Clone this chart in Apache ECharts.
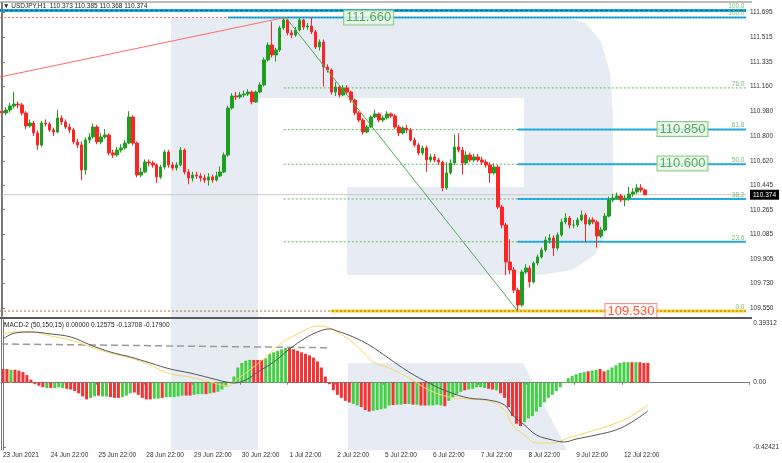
<!DOCTYPE html>
<html><head><meta charset="utf-8">
<script src="https://cdn.jsdelivr.net/npm/echarts@6/dist/echarts.min.js"></script>
<style>html,body{margin:0;padding:0;background:#fff}#c{width:782px;height:463px}</style>
</head><body><div id="c"></div>
<script>
// ---------------- DATA ----------------
const dayLabels = ['23 Jun 2021','24 Jun 22:00','25 Jun 22:00','28 Jun 22:00','29 Jun 22:00','30 Jun 22:00','1 Jul 22:00','2 Jul 22:00','5 Jul 22:00','6 Jul 22:00','7 Jul 22:00','8 Jul 22:00','9 Jul 22:00','12 Jul 22:00'];
const barsPerDay = 12; // 2-hour candles
const firstOpen = 110.980;
const closes = [110.967,110.989,111.018,111.032,111.025,110.967,110.873,110.894,110.822,110.735,
110.894,110.887,110.844,110.829,110.931,110.902,110.865,110.844,110.757,110.735,
110.553,110.771,110.793,110.865,110.757,110.793,110.807,110.677,110.662,110.698,
110.713,110.749,110.938,110.749,110.517,110.539,110.611,110.604,110.590,110.503,
110.575,110.684,110.590,110.568,110.590,110.698,110.539,110.495,110.517,110.510,
110.495,110.481,110.503,110.481,110.510,110.539,110.662,111.003,111.090,111.083,
111.098,111.105,111.119,111.047,111.119,111.170,111.352,111.460,111.388,111.424,
111.584,111.642,111.548,111.533,111.569,111.642,111.591,111.598,111.555,111.446,
111.482,111.301,111.279,111.119,111.156,111.098,111.148,111.119,111.061,110.967,
110.916,110.829,110.865,110.938,110.960,110.916,110.931,110.960,110.945,110.865,
110.822,110.858,110.844,110.771,110.735,110.677,110.713,110.626,110.648,110.626,
110.611,110.423,110.532,110.604,110.720,110.698,110.604,110.662,110.626,110.648,
110.626,110.611,110.590,110.532,110.575,110.285,110.154,109.886,109.828,109.682,
109.574,109.813,109.842,109.741,109.878,109.922,109.973,110.045,110.060,109.987,
110.082,110.176,110.205,110.154,110.154,110.191,110.227,110.161,110.191,110.176,
110.074,110.118,110.219,110.336,110.350,110.365,110.336,110.350,110.379,110.394,
110.423,110.408,110.374];
const highs = [111.00,111.01,111.04,111.12,111.05,111.04,110.98,110.92,110.91,110.84,
110.91,110.92,110.90,110.86,110.99,110.95,110.92,110.89,110.86,110.78,
110.76,110.79,110.82,110.89,110.88,110.82,110.85,110.82,110.70,110.72,
110.74,110.77,110.98,110.95,110.76,110.57,110.63,110.63,110.62,110.60,
110.59,110.70,110.70,110.61,110.61,110.72,110.71,110.56,110.54,110.54,
110.53,110.52,110.53,110.52,110.54,110.58,110.68,111.02,111.11,111.12,
111.12,111.13,111.14,111.13,111.13,111.19,111.37,111.48,111.63,111.44,
111.60,111.66,111.65,111.57,111.59,111.66,111.65,111.62,111.66,111.57,
111.50,111.50,111.32,111.29,111.19,111.17,111.17,111.17,111.13,111.07,
110.98,110.93,110.88,110.95,110.99,110.97,110.95,110.98,110.97,110.96,
110.88,110.87,110.88,110.86,110.79,110.75,110.73,110.73,110.67,110.67,
110.64,110.62,110.61,110.63,110.81,110.82,110.72,110.69,110.68,110.67,
110.67,110.65,110.63,110.61,110.60,110.59,110.30,110.17,110.05,109.85,
109.70,109.83,109.87,109.86,109.89,109.94,109.99,110.07,110.09,110.08,
110.10,110.20,110.24,110.22,110.19,110.21,110.26,110.24,110.21,110.21,
110.19,110.14,110.24,110.36,110.38,110.39,110.38,110.37,110.43,110.42,
110.45,110.45,110.42];
const lows = [110.94,110.95,110.97,111.00,111.00,110.95,110.85,110.86,110.80,110.70,
110.72,110.87,110.83,110.80,110.82,110.88,110.85,110.82,110.74,110.71,
110.48,110.52,110.75,110.78,110.74,110.74,110.78,110.66,110.64,110.65,
110.68,110.70,110.74,110.73,110.50,110.50,110.53,110.58,110.57,110.46,
110.49,110.56,110.57,110.55,110.55,110.58,110.52,110.45,110.47,110.49,
110.47,110.46,110.44,110.46,110.47,110.50,110.53,110.65,110.99,111.06,
111.07,111.08,111.09,111.03,111.04,111.11,111.16,111.34,111.37,111.34,
111.41,111.57,111.53,111.51,111.52,111.56,111.57,111.57,111.54,111.43,
111.42,111.16,111.26,111.10,111.09,111.08,111.09,111.10,111.04,110.95,
110.90,110.81,110.82,110.86,110.93,110.90,110.90,110.92,110.93,110.85,
110.80,110.81,110.82,110.76,110.72,110.66,110.66,110.54,110.61,110.61,
110.59,110.40,110.41,110.52,110.59,110.68,110.52,110.59,110.61,110.61,
110.61,110.59,110.57,110.46,110.52,110.27,110.13,109.79,109.80,109.66,
109.53,109.56,109.80,109.70,109.73,109.86,109.91,109.96,110.02,109.93,
109.97,110.07,110.16,110.13,110.13,110.14,110.18,110.03,110.15,110.16,
109.99,110.06,110.11,110.21,110.32,110.34,110.32,110.29,110.33,110.36,
110.38,110.39,110.37];
const headerQuote = ['110.373','110.385','110.368','110.374'];
const lastPrice = 110.374;
const priceTicks = [111.695,111.515,111.335,111.160,110.980,110.800,110.620,110.445,110.265,110.085,109.905,109.730,109.550];
const fibHigh = 111.660, fibLow = 109.530;
const fibLevels = [0,23.6,38.2,50,61.8,76];
const upperLevel = 111.711;
const boxPrices = [111.660,110.850,110.600,109.530];
const trendLine = [[-0.5,111.228],[71.25,111.660]];
const fibDiagonal = [[71.5,111.660],[130,109.530]];

const macdTitle = 'MACD-2 (50,150,15) 0.00000 0.12575 -0.13708 -0.17900';
const macdTicks = [0.39312, 0, -0.42421];
const histValues = [0.09,0.09,0.085,0.085,0.08,0.07,0.05,0.02,-0.01,-0.02,
-0.03,-0.035,-0.035,-0.035,-0.03,-0.035,-0.04,-0.045,-0.055,-0.07,
-0.09,-0.11,-0.1,-0.09,-0.085,-0.09,-0.09,-0.095,-0.1,-0.1,
-0.095,-0.085,-0.07,-0.065,-0.08,-0.1,-0.11,-0.11,-0.105,-0.105,
-0.1,-0.095,-0.095,-0.095,-0.09,-0.085,-0.085,-0.085,-0.08,-0.075,
-0.075,-0.075,-0.07,-0.065,-0.06,-0.045,-0.025,0.005,0.04,0.1,
0.13,0.145,0.15,0.15,0.15,0.15,0.16,0.19,0.2,0.21,
0.22,0.23,0.23,0.22,0.21,0.2,0.19,0.18,0.165,0.14,
0.1,0.04,-0.01,-0.05,-0.08,-0.1,-0.12,-0.13,-0.14,-0.15,
-0.16,-0.18,-0.19,-0.185,-0.18,-0.175,-0.17,-0.15,-0.147,-0.145,
-0.145,-0.14,-0.14,-0.145,-0.145,-0.15,-0.15,-0.15,-0.15,-0.145,
-0.15,-0.155,-0.12,-0.1,-0.075,-0.06,-0.05,-0.045,-0.04,-0.03,
-0.03,-0.035,-0.04,-0.045,-0.05,-0.07,-0.1,-0.16,-0.22,-0.27,
-0.285,-0.26,-0.235,-0.22,-0.19,-0.16,-0.13,-0.1,-0.08,-0.055,
-0.03,0.005,0.03,0.045,0.055,0.065,0.07,0.075,0.08,0.085,
0.09,0.075,0.085,0.1,0.115,0.13,0.135,0.135,0.135,0.135,
0.135,0.13,0.13];
const histColors = 'RRGRRRRRRR'+'RGRGGGRRRR'+'RRGGRGGRRR'+'GGGRRRRRGG'+'RGGGGGRRGG'+'GRGRGGGGGG'+'GGGRRRGGGG'+'GGRRRRRRRR'+'RRRRRRRRGG'+'RRRGGGGGRG'+'GRGRGRRGGG'+'GRGGGGRGGG'+'GGRRGRRRRR'+'RGGGGGGGGG'+'GGGGGGGRGG'+'RRGGGGGGRG'+'RRR';
const macdLine = [[0,0.288],[3,0.327],[7,0.334],[12,0.321],[17,0.301],[22,0.248],[27,0.202],[32,0.169],[37,0.130],[42,0.090],[47,0.064],[52,0.031],[56,0.005],[58,-0.002],[61,0.018],[64,0.070],[68,0.136],[72,0.222],[76,0.294],[79,0.334],[82,0.354],[84,0.340],[88,0.301],[92,0.248],[97,0.159],[102,0.070],[107,-0.002],[112,-0.061],[117,-0.101],[122,-0.114],[126,-0.147],[128,-0.213],[131,-0.278],[134,-0.344],[138,-0.377],[141,-0.390],[144,-0.371],[149,-0.344],[154,-0.311],[158,-0.259],[162,-0.186]];
const signalLine = [[0,0.321],[3,0.334],[7,0.334],[12,0.307],[17,0.281],[22,0.235],[27,0.195],[32,0.163],[37,0.116],[42,0.057],[47,0.038],[52,0.005],[55,-0.015],[57,-0.022],[58,0.005],[62,0.084],[66,0.169],[70,0.261],[75,0.334],[79,0.373],[82,0.360],[86,0.301],[90,0.215],[93,0.136],[97,0.097],[102,0.031],[107,-0.048],[112,-0.094],[117,-0.107],[122,-0.120],[126,-0.180],[128,-0.278],[131,-0.344],[134,-0.397],[138,-0.397],[142,-0.364],[147,-0.325],[152,-0.285],[157,-0.232],[162,-0.147]];
const macdTrend = [[-0.5,0.255],[82,0.230]];

// ---------------- LAYOUT ----------------
const L = {
  slots: 188, xMin: -0.5, xMax: 187.5,
  fibStart: 71, cyanStart: 130, redTopEnd: 57, yellowStart: 82.75,
  boxAnchors: [92.4, 171.5, 171.5, 158.5],
  font: 'Liberation Sans'
};
const cats = [];
for (let i = 0; i < L.slots; i++) cats.push(i % barsPerDay === 0 && i / barsPerDay < dayLabels.length ? dayLabels[i / barsPerDay] : '');
const candleData = closes.map((c, i) => [i === 0 ? firstOpen : closes[i - 1], c, lows[i], highs[i]]);
const histData = histValues.map((v, i) => ({ value: v, itemStyle: { color: histColors[i] === 'G' ? '#46cf46' : '#f43434' } }));
const fibPrice = l => fibLow + (fibHigh - fibLow) * l / 100;

function hline(x0, x1, price, style, z) {
  return { type: 'line', xAxisIndex: 1, yAxisIndex: 0, data: [[x0, price], [x1, price]], symbol: 'none', silent: true, lineStyle: style, z: z || 3, animation: false };
}
const series = [];
series.push(hline(L.xMin, L.xMax, lastPrice, { color: '#c8c8c8', width: 1 }, 1));
series.push(hline(L.xMin, L.xMax, upperLevel, { color: '#19a8dc', width: 3 }, 3));
series.push(hline(L.xMin, L.xMax, upperLevel, { color: '#0f5a78', width: 1, type: [3, 2] }, 3));
series.push(hline(L.xMin, L.redTopEnd, fibHigh, { color: '#f07a7a', width: 1, type: [2, 2] }, 3));
series.push(hline(L.redTopEnd, L.xMax, fibHigh, { color: '#27b0e0', width: 2 }, 3));
series.push(hline(L.redTopEnd, L.xMax, fibHigh, { color: '#1a6f92', width: 1, type: [1, 2] }, 3));
fibLevels.filter(l => l > 0).forEach(l => {
  series.push(hline(L.fibStart, L.xMax, fibPrice(l), { color: '#5fb85f', width: 1, type: [2, 2] }, 3));
  if (l < 70) {
    series.push(hline(L.cyanStart, L.xMax, fibPrice(l), { color: '#2ab2e0', width: 2 }, 3));
    series.push(hline(L.cyanStart, L.xMax, fibPrice(l), { color: '#1a7fa8', width: 1, type: [1, 3] }, 3));
  }
});
series.push(hline(L.yellowStart, L.xMax, fibLow, { color: '#f6d31c', width: 3 }, 3));
series.push(hline(L.xMin, L.xMax, fibLow, { color: '#a8752a', width: 1, type: [2, 2] }, 3));
series.push({ type: 'line', xAxisIndex: 1, yAxisIndex: 0, data: trendLine, symbol: 'none', silent: true, lineStyle: { color: '#ff6a6a', width: 1 }, z: 3 });
series.push({ type: 'candlestick', xAxisIndex: 0, yAxisIndex: 0, data: candleData, barWidth: 3, z: 4,
  itemStyle: { color: '#1f9f1f', color0: '#ff2424', borderColor: '#1f9f1f', borderColor0: '#ff2424', borderWidth: 1 } });
series.push({ type: 'line', xAxisIndex: 1, yAxisIndex: 0, data: fibDiagonal, symbol: 'none', silent: true, lineStyle: { color: '#4fae4f', width: 1 }, z: 5 });
// fib level labels
const fibLabelData = [{ value: [L.xMax, upperLevel], name: '100.0' }, { value: [L.xMax, fibHigh], name: '100.0' }]
  .concat(fibLevels.slice().reverse().map(l => ({ value: [L.xMax, fibPrice(l)], name: l.toFixed(1) })));
series.push({ type: 'scatter', xAxisIndex: 1, yAxisIndex: 0, data: fibLabelData, symbolSize: 1, clip: false, z: 6, silent: true,
  itemStyle: { color: 'rgba(0,0,0,0)' },
  label: { show: true, position: 'left', distance: 1, offset: [0, -4], formatter: '{b}', color: '#58b058', fontSize: 6.5, fontFamily: L.font } });
// price boxes
const boxData = boxPrices.map((p, k) => {
  const red = p === fibLow;
  return { value: [L.boxAnchors[k], p], name: p.toFixed(3),
    label: { color: red ? '#ff2a2a' : '#2a9a2a', backgroundColor: red ? '#ffffff' : '#eef8ee', borderColor: red ? '#ff7676' : '#6cbf6c' } };
});
series.push({ type: 'scatter', xAxisIndex: 1, yAxisIndex: 0, data: boxData, symbolSize: 1, clip: false, z: 7, silent: true,
  itemStyle: { color: 'rgba(0,0,0,0)' },
  label: { show: true, position: 'inside', formatter: '{b}', fontSize: 13, fontFamily: L.font, borderWidth: 1, padding: [1, 2, 0, 2] } });
// MACD
series.push({ type: 'bar', xAxisIndex: 2, yAxisIndex: 1, data: histData, barWidth: 3, z: 2, silent: true });
series.push({ type: 'line', xAxisIndex: 3, yAxisIndex: 1, data: macdTrend, symbol: 'none', silent: true, lineStyle: { color: '#9a9a9a', width: 1.5, type: [7, 4] }, z: 3 });
series.push({ type: 'line', xAxisIndex: 3, yAxisIndex: 1, data: signalLine, symbol: 'none', smooth: 0.4, silent: true, lineStyle: { color: '#f3db5c', width: 1 }, z: 4 });
series.push({ type: 'line', xAxisIndex: 3, yAxisIndex: 1, data: macdLine, symbol: 'none', smooth: 0.4, silent: true, lineStyle: { color: '#555555', width: 1 }, z: 4 });

const wm = '#e7ecf4';
const frame = '#7a7a7a';
const bowl = [[258,17],[565,17],[586,23],[601,41.5],[610,72],[613,115],[613,195],[608,230],[595,255],[572,270],[540,275],[347,275],[347,187],[524,187],[524,98],[258,98]];
const option = {
  animation: false,
  textStyle: { fontFamily: L.font },
  grid: [
    { left: 0, top: 3, width: 752, height: 313 },
    { left: 0, top: 320, width: 752, height: 130 }
  ],
  xAxis: [
    { type: 'category', gridIndex: 0, data: cats, boundaryGap: true, axisLine: { show: false }, axisTick: { show: false }, axisLabel: { show: false }, splitLine: { show: false } },
    { type: 'value', gridIndex: 0, min: L.xMin, max: L.xMax, show: false },
    { type: 'category', gridIndex: 1, data: cats, boundaryGap: true,
      axisLine: { show: true, lineStyle: { color: frame } },
      axisTick: { show: true, length: 2, interval: (i) => cats[i] !== '', lineStyle: { color: frame } },
      axisLabel: { interval: 0, align: 'left', margin: 2, fontSize: 6.5, color: '#333', fontFamily: L.font },
      splitLine: { show: false } },
    { type: 'value', gridIndex: 1, min: L.xMin, max: L.xMax, show: false }
  ],
  yAxis: [
    { type: 'value', gridIndex: 0, position: 'right', min: 109.494, max: 111.765, splitLine: { show: false },
      axisLine: { show: true, lineStyle: { color: frame } },
      axisTick: { show: true, length: 3, customValues: priceTicks, lineStyle: { color: frame } },
      axisLabel: { customValues: priceTicks.concat([lastPrice]), margin: 4, fontSize: 6.5, color: '#333', fontFamily: L.font,
        formatter: v => Math.abs(v - lastPrice) < 1e-6 ? '{cur|' + v.toFixed(3) + '}' : v.toFixed(3),
        rich: { cur: { backgroundColor: '#000', color: '#fff', fontSize: 6.5, padding: [2, 3, 1, 3], fontFamily: L.font } } } },
    { type: 'value', gridIndex: 1, position: 'right', min: -0.4431, max: 0.4128, splitLine: { show: false },
      axisLine: { show: true, lineStyle: { color: frame } },
      axisTick: { show: true, length: 3, customValues: macdTicks, lineStyle: { color: frame } },
      axisLabel: { customValues: macdTicks, margin: 4, fontSize: 6.5, color: '#333', fontFamily: L.font,
        formatter: v => v === 0 ? '0.00' : v.toFixed(5) } }
  ],
  graphic: [
    { type: 'rect', z: 0, silent: true, shape: { x: 171, y: 17, width: 87, height: 433 }, style: { fill: wm } },
    { type: 'polygon', z: 0, silent: true, shape: { points: bowl }, style: { fill: wm } },
    { type: 'polygon', z: 0, silent: true, shape: { points: [[348, 363], [523, 363], [567, 450], [348, 450]] }, style: { fill: wm } },
    { type: 'rect', z: 50, silent: true, shape: { x: 0, y: 1.5, width: 752, height: 1 }, style: { fill: frame } },
    { type: 'rect', z: 50, silent: true, shape: { x: 1, y: 2, width: 1, height: 448 }, style: { fill: frame } },
    { type: 'rect', z: 50, silent: true, shape: { x: 0, y: 317, width: 752, height: 2 }, style: { fill: '#5a5a5a' } },
    { type: 'text', z: 50, silent: true, left: 3, top: 3, style: { text: '\u25BC USDJPY,H1  ' + headerQuote.join(' '), fontSize: 6.5, fontFamily: L.font, fill: '#222' } },
    { type: 'text', z: 50, silent: true, left: 4, top: 322, style: { text: macdTitle, fontSize: 6.5, fontFamily: L.font, fill: '#222' } }
  ],
  series: series
};
const chart = echarts.init(document.getElementById('c'));
chart.setOption(option);
</script>
</body></html>
